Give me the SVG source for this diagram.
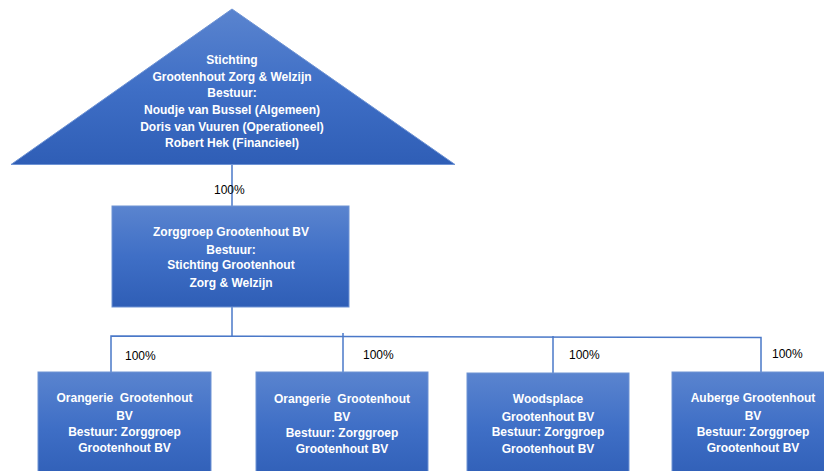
<svg xmlns="http://www.w3.org/2000/svg" width="824" height="471" viewBox="0 0 824 471">
<defs>
<linearGradient id="g" x1="0" y1="0" x2="0" y2="1">
<stop offset="0" stop-color="#5a84cf"/>
<stop offset="0.5" stop-color="#3f6fc6"/>
<stop offset="1" stop-color="#2f5eb6"/>
</linearGradient>
</defs>
<style>
.shape{fill:url(#g);stroke:#6e93d4;stroke-width:1}
.t{font-family:"Liberation Sans",Arial,sans-serif;font-weight:bold;font-size:12px;fill:#ffffff;text-anchor:middle}
.pct{font-family:"Liberation Sans",Arial,sans-serif;font-size:12px;fill:#000000}
.ln{stroke:#4a78c8;stroke-width:1.5;fill:none}
</style>
<rect width="824" height="471" fill="#ffffff"/>
<g id="connectors">
<line class="ln" x1="232" y1="165" x2="232" y2="206"/>
<line class="ln" x1="232" y1="307" x2="232" y2="336"/>
<polyline class="ln" points="111,372 111,336 761,337.5 761,372"/>
<line class="ln" x1="343" y1="333" x2="343" y2="372"/>
<line class="ln" x1="553" y1="336" x2="553" y2="373"/>
<text class="pct" x="214" y="194">100%</text>
<text class="pct" x="125" y="360">100%</text>
<text class="pct" x="363" y="359">100%</text>
<text class="pct" x="569" y="359">100%</text>
<text class="pct" x="772" y="358">100%</text>
</g>
<g id="stichting">
<polygon class="shape" points="232,9 455,164.5 11,164.5"/>
<text class="t" x="232" y="64">Stichting</text>
<text class="t" x="232" y="81">Grootenhout Zorg &amp; Welzijn</text>
<text class="t" x="232" y="97">Bestuur:</text>
<text class="t" x="232" y="114">Noudje van Bussel (Algemeen)</text>
<text class="t" x="232" y="131">Doris van Vuuren (Operationeel)</text>
<text class="t" x="232" y="147">Robert Hek (Financieel)</text>
</g>
<g id="zorggroep">
<rect class="shape" x="112" y="206" width="237" height="101"/>
<text class="t" x="231" y="236">Zorggroep Grootenhout BV</text>
<text class="t" x="231" y="254">Bestuur:</text>
<text class="t" x="231" y="269">Stichting Grootenhout</text>
<text class="t" x="231" y="287">Zorg &amp; Welzijn</text>
</g>
<g id="orangerie1">
<rect class="shape" x="38" y="372" width="173" height="110"/>
<text class="t" x="124.5" y="402" xml:space="preserve">Orangerie  Grootenhout</text>
<text class="t" x="124.5" y="420">BV</text>
<text class="t" x="124.5" y="436">Bestuur: Zorggroep</text>
<text class="t" x="124.5" y="452">Grootenhout BV</text>
</g>
<g id="orangerie2">
<rect class="shape" x="256" y="372" width="172" height="110"/>
<text class="t" x="342" y="403" xml:space="preserve">Orangerie  Grootenhout</text>
<text class="t" x="342" y="421">BV</text>
<text class="t" x="342" y="437">Bestuur: Zorggroep</text>
<text class="t" x="342" y="453">Grootenhout BV</text>
</g>
<g id="woodsplace">
<rect class="shape" x="467" y="373" width="162" height="110"/>
<text class="t" x="548" y="403">Woodsplace</text>
<text class="t" x="548" y="421">Grootenhout BV</text>
<text class="t" x="548" y="436">Bestuur: Zorggroep</text>
<text class="t" x="548" y="453">Grootenhout BV</text>
</g>
<g id="auberge">
<rect class="shape" x="672" y="372" width="162" height="110"/>
<text class="t" x="753" y="402">Auberge Grootenhout</text>
<text class="t" x="753" y="420">BV</text>
<text class="t" x="753" y="436">Bestuur: Zorggroep</text>
<text class="t" x="753" y="452">Grootenhout BV</text>
</g>
</svg>
